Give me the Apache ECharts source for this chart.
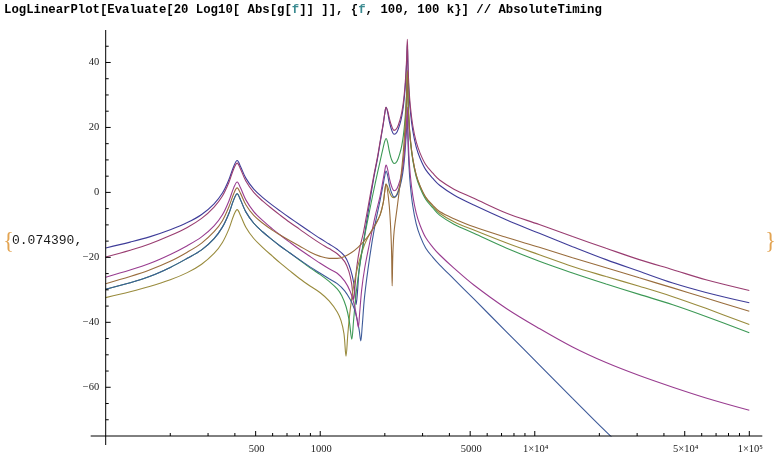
<!DOCTYPE html>
<html><head><meta charset="utf-8">
<script src="https://cdn.jsdelivr.net/npm/echarts@6/dist/echarts.min.js"></script>
<style>html,body{margin:0;padding:0;background:#fff}#c{width:784px;height:463px}</style>
</head><body><div id="c"></div>
<script>
// ---- tick values / labels ----
const xMajorTicks = [500, 1000, 5000, 10000, 50000, 100000];
const xTickLabels = ['500', '1000', '5000', '1×10⁴', '5×10⁴', '1×10⁵'];
const xMinorTicks = [200, 300, 400, 600, 700, 800, 900, 2000, 3000, 4000, 6000, 7000, 8000, 9000,
  20000, 30000, 40000, 60000, 70000, 80000, 90000];
const yMajorTicks = [-60, -40, -20, 0, 20, 40];
const yTickLabels = ['−60', '−40', '−20', '0', '20', '40'];
const yMinorTicks = [-70, -65, -55, -50, -45, -35, -30, -25, -15, -10, -5, 5, 10, 15, 25, 30, 35, 45];

// ---- series values [frequency Hz, dB] ----
const curveBlueViolet = [[100,-17.1],[130,-15.3],[160,-13.7],[200,-11.5],[240,-9.3],[280,-6.8],[320,-3.5],[350,-0.2],[375,3.9],[395,8.0],[410,9.8],[425,8.0],[450,4.4],[490,1.0],[540,-1.6],[600,-4.0],[650,-5.7],[720,-7.8],[800,-9.9],[900,-12.2],[1000,-14.2],[1100,-15.9],[1200,-17.5],[1300,-19.6],[1360,-22.2],[1410,-25.6],[1445,-29.5],[1470,-34.5],[1490,-31],[1520,-23.5],[1588,-15.7],[1650,-8.5],[1769,3.8],[1850,10.5],[1900,15.1],[1969,21.2],[2000,24.3],[2027,26.2],[2060,24.8],[2100,21.8],[2150,19.3],[2210,17.9],[2280,18.6],[2355,21.2],[2400,23.5],[2440,26.5],[2480,31],[2510,36],[2530,40.5],[2547,45.7],[2565,38],[2590,31],[2630,25],[2700,19],[2800,14],[2920,10.5],[3100,7.0],[3350,4.3],[3600,2.2],[4200,-0.8],[5200,-3.9],[7400,-8.5],[10500,-12.6],[15000,-16.7],[21500,-20.7],[30700,-24.3],[44000,-27.9],[62800,-30.8],[100000,-34.0]];
const curveMaroon = [[100,-19.9],[130,-17.8],[160,-15.9],[200,-13.3],[240,-10.8],[280,-8.0],[320,-4.5],[350,-1.1],[375,3.05],[395,7.2],[410,9.0],[425,7.2],[450,3.5],[490,0.0],[540,-2.7],[600,-5.2],[650,-7.0],[720,-9.2],[800,-11.3],[900,-13.7],[1000,-15.7],[1100,-17.3],[1200,-18.9],[1300,-21.3],[1360,-24.3],[1400,-28],[1430,-33],[1450,-29.5],[1480,-23],[1530,-17],[1588,-12.5],[1650,-6.5],[1769,4.5],[1850,11],[1900,15.5],[1969,21.5],[2000,24.5],[2027,26.2],[2060,25.2],[2100,22.8],[2150,20.5],[2210,19.1],[2280,19.8],[2355,22.4],[2400,24.7],[2440,27.7],[2480,32.2],[2510,37.2],[2530,41.8],[2547,47.1],[2565,39.6],[2590,32.6],[2630,26.6],[2700,20.6],[2800,15.6],[2920,12.1],[3100,8.6],[3350,5.9],[3600,3.8],[4200,1.0],[5200,-1.8],[7400,-6.4],[10500,-9.9],[15000,-13.6],[21500,-17.2],[30700,-20.7],[44000,-23.8],[62800,-26.9],[100000,-30.2]];
const curveOlive = [[100,-32.4],[130,-30.6],[160,-29.0],[200,-26.9],[240,-24.7],[280,-22.1],[320,-18.8],[350,-15.4],[375,-11.3],[395,-7.1],[410,-5.3],[425,-7.1],[450,-10.7],[490,-14.2],[540,-17.0],[600,-19.7],[650,-21.7],[720,-24.1],[800,-26.5],[900,-28.9],[1000,-30.9],[1100,-33.4],[1200,-36.8],[1250,-39.5],[1290,-43.5],[1319,-50.4],[1345,-43.5],[1380,-36],[1430,-29],[1500,-22.5],[1600,-16.5],[1700,-12.8],[1800,-10.0],[1900,-7.0],[1969,-3.0],[2000,0.5],[2027,2.6],[2060,1.8],[2100,0.2],[2150,-1.2],[2210,-1.6],[2280,-0.5],[2355,2.5],[2400,5.5],[2440,9.5],[2480,15.5],[2510,22.5],[2530,29],[2547,37.1],[2565,29.4],[2590,22.4],[2630,16.4],[2700,10.4],[2800,5.4],[2920,1.9],[3100,-1.6],[3350,-4.3],[3600,-6.4],[4200,-9.0],[5200,-11.6],[7400,-15.6],[10500,-19.2],[15000,-22.8],[21500,-25.9],[30700,-28.9],[44000,-32.1],[62800,-35.7],[100000,-40.7]];
const curveGreen = [[100,-29.8],[130,-27.8],[160,-25.9],[200,-23.1],[240,-20.3],[280,-17.7],[320,-14.2],[350,-10.7],[375,-6.5],[395,-2.3],[410,-0.4],[425,-2.3],[450,-6.0],[490,-9.5],[540,-12.2],[600,-14.7],[650,-16.5],[720,-18.6],[800,-20.8],[900,-23.3],[1000,-25.3],[1100,-27.4],[1200,-29.7],[1260,-31.8],[1320,-35.2],[1365,-39.5],[1403,-45.2],[1430,-39.5],[1470,-31],[1530,-22.5],[1600,-14.5],[1700,-5.5],[1800,2.5],[1900,9.5],[1969,14],[2000,15.8],[2027,16.6],[2060,15.5],[2100,12.6],[2150,10.1],[2210,8.9],[2280,9.6],[2355,12.2],[2400,14.5],[2440,17.5],[2480,22],[2510,27],[2530,31.5],[2547,36.6],[2565,28.9],[2590,21.9],[2630,15.9],[2700,9.9],[2800,4.9],[2920,1.4],[3100,-2.1],[3350,-4.8],[3600,-7.0],[4200,-9.8],[5200,-12.6],[7400,-17.2],[10500,-21.2],[15000,-24.8],[21500,-28.2],[30700,-31.4],[44000,-34.6],[62800,-38.2],[100000,-43.2]];
const curveSteelBlue = [[100,-29.8],[130,-27.8],[160,-25.9],[200,-23.1],[240,-20.3],[280,-17.7],[320,-14.2],[350,-10.7],[375,-6.5],[395,-2.3],[410,-0.4],[425,-2.3],[450,-6.0],[490,-9.5],[540,-12.2],[600,-14.7],[650,-16.5],[720,-18.6],[800,-20.7],[900,-23.0],[1000,-24.9],[1100,-26.6],[1200,-28.1],[1300,-30.3],[1380,-33.0],[1440,-35.8],[1490,-39.5],[1520,-42.5],[1545,-45.7],[1570,-41],[1610,-32],[1700,-20],[1800,-10],[1900,-2.5],[1969,2.8],[2000,5.2],[2027,6.6],[2060,5.3],[2100,2.3],[2150,-0.1],[2210,-1.4],[2280,-0.7],[2355,1.9],[2400,4.2],[2440,7.2],[2480,11.7],[2510,16.7],[2530,20],[2547,23.7],[2565,15.8],[2590,8.5],[2630,2.2],[2700,-4.2],[2800,-9.6],[2920,-13.4],[3100,-17.1],[3350,-20.0],[3600,-22.3],[4200,-26.7],[5200,-32.8],[7400,-43.0],[10500,-53.1],[15000,-63.4],[22900,-75.4],[35000,-86]];
const curveMagenta = [[100,-26.1],[130,-23.9],[160,-21.9],[200,-19.1],[240,-16.4],[280,-13.7],[320,-10.3],[350,-6.9],[375,-2.7],[395,1.4],[410,3.2],[425,1.4],[450,-2.3],[490,-5.9],[540,-8.7],[600,-11.3],[650,-13.1],[720,-15.3],[800,-17.5],[900,-19.8],[1000,-21.8],[1100,-23.5],[1200,-24.9],[1300,-27.3],[1380,-30.5],[1440,-34.5],[1480,-38.5],[1505,-41.5],[1525,-37.5],[1560,-30],[1610,-23.5],[1700,-15.5],[1800,-7.5],[1900,-1.2],[1969,4.3],[2000,6.8],[2027,8.4],[2060,7.2],[2100,4.4],[2150,1.9],[2210,0.5],[2280,1.2],[2355,3.8],[2400,6.1],[2440,9.1],[2480,13.6],[2510,18.6],[2530,22.5],[2547,26.3],[2565,18.5],[2590,11.4],[2630,5.2],[2700,-1],[2800,-6.3],[2920,-10.1],[3100,-13.9],[3350,-16.9],[3600,-19.2],[4200,-23.3],[5200,-28.5],[7400,-35.8],[10500,-41.9],[15000,-47.6],[21500,-52.4],[30700,-56.4],[44000,-60.0],[62800,-63.3],[100000,-67.1]];
const curveBrown = [[100,-28.1],[130,-25.9],[160,-23.9],[200,-21.2],[240,-18.4],[280,-15.6],[320,-12.1],[350,-8.7],[375,-4.5],[395,-0.4],[410,1.4],[425,-0.3],[450,-3.8],[490,-7.1],[540,-9.5],[600,-11.7],[650,-13.1],[720,-14.8],[800,-16.5],[900,-18.4],[1000,-19.7],[1100,-20.3],[1200,-20.3],[1300,-19.7],[1400,-18.5],[1500,-16.9],[1600,-15.0],[1700,-12.8],[1800,-10.2],[1900,-7.0],[1969,-3.0],[2000,0.5],[2027,2.6],[2060,0.5],[2100,-4.5],[2130,-11],[2150,-18],[2164,-28.8],[2180,-19],[2210,-12],[2280,-5],[2355,2.5],[2400,7.5],[2440,12.5],[2480,19.5],[2510,25.5],[2530,31],[2547,37.6],[2565,29.7],[2590,22.6],[2630,16.5],[2700,10.4],[2800,5.4],[2920,2.0],[3100,-1.4],[3350,-4.0],[3600,-5.9],[4200,-8.1],[5200,-10.6],[7400,-13.9],[10500,-16.9],[15000,-20.1],[21500,-23.2],[30700,-26.3],[44000,-29.4],[62800,-32.5],[100000,-36.6]];

const curves = [
  {name: 'c1', data: curveBlueViolet, color: '#3f3d99'},
  {name: 'c2', data: curveMaroon, color: '#993d71'},
  {name: 'c3', data: curveOlive, color: '#998b3d'},
  {name: 'c4', data: curveGreen, color: '#3d9956'},
  {name: 'c5', data: curveSteelBlue, color: '#3d5a99'},
  {name: 'c6', data: curveMagenta, color: '#993d90'},
  {name: 'c7', data: curveBrown, color: '#996d3d'}
];

const chart = echarts.init(document.getElementById('c'), null, {renderer: 'canvas'});
const Y_MIN = -75, Y_MAX = 50, X_MIN = 100, X_MAX = 100000;

const lineSeries = curves.map(c => ({
  type: 'line', name: c.name, data: c.data, showSymbol: false, symbol: 'none',
  smooth: 0.35, clip: true, silent: true,
  lineStyle: {color: c.color, width: 1.1}
}));

const tickData = []
  .concat(xMajorTicks.map(v => [v, Y_MIN, 0, 1]))
  .concat(xMinorTicks.map(v => [v, Y_MIN, 0, 0]))
  .concat(yMajorTicks.map(v => [X_MIN, v, 1, 1]))
  .concat(yMinorTicks.map(v => [X_MIN, v, 1, 0]));

const tickSeries = {
  type: 'custom', coordinateSystem: 'cartesian2d', silent: true, clip: false, z: 5,
  data: tickData,
  renderItem: function (params, api) {
    const p = api.coord([api.value(0), api.value(1)]);
    const isY = api.value(2) === 1;
    const len = api.value(3) === 1 ? 5 : 3;
    const shape = isY ? {x1: p[0], y1: p[1], x2: p[0] + len, y2: p[1]}
                      : {x1: p[0], y1: p[1], x2: p[0], y2: p[1] - len};
    return {type: 'line', shape: shape, style: {stroke: '#000', lineWidth: 1}};
  }
};

const labelData = []
  .concat(xMajorTicks.map((v, i) => [v, Y_MIN, 0, i]))
  .concat(yMajorTicks.map((v, i) => [X_MIN, v, 1, i]));

const labelSeries = {
  type: 'custom', coordinateSystem: 'cartesian2d', silent: true, clip: false, z: 5,
  data: labelData,
  renderItem: function (params, api) {
    const p = api.coord([api.value(0), api.value(1)]);
    const isY = api.value(2) === 1;
    const idx = api.value(3);
    const txt = isY ? yTickLabels[idx] : xTickLabels[idx];
    return {
      type: 'text',
      x: isY ? p[0] - 6.5 : p[0] + 1,
      y: isY ? p[1] : p[1] + 13,
      style: {
        text: txt, fill: '#222',
        font: '10.5px "Liberation Serif", "DejaVu Serif", serif',
        align: isY ? 'right' : 'center', verticalAlign: 'middle',
        textAlign: isY ? 'right' : 'center', textVerticalAlign: 'middle'
      }
    };
  }
};

chart.setOption({
  animation: false,
  backgroundColor: '#fff',
  grid: {left: 105.7, top: 30, width: 643.6, height: 406, containLabel: false},
  xAxis: {type: 'log', logBase: 10, min: X_MIN, max: X_MAX,
    axisLine: {show: false}, axisTick: {show: false}, axisLabel: {show: false}, splitLine: {show: false}},
  yAxis: {type: 'value', min: Y_MIN, max: Y_MAX,
    axisLine: {show: false}, axisTick: {show: false}, axisLabel: {show: false}, splitLine: {show: false}},
  series: lineSeries.concat([tickSeries, labelSeries])
});

// axes lines (with Mathematica-style overhang) and the notebook text
const o = chart.convertToPixel({gridIndex: 0}, [X_MIN, Y_MIN]);
const t = chart.convertToPixel({gridIndex: 0}, [X_MAX, Y_MAX]);
const monoB = 'bold 12.3px "Liberation Mono", "DejaVu Sans Mono", monospace';
const cw = 12.3 * 0.6;
const titleSegs = [
  ['LogLinearPlot[Evaluate[20 Log10[ Abs[g[', 0, '#000'],
  ['f', 39, '#3a8a90'],
  [']] ]], {', 40, '#000'],
  ['f', 48, '#3a8a90'],
  [', 100, 100 k}] // AbsoluteTiming', 49, '#000']
];
const graphics = [
  {type: 'line', shape: {x1: o[0] - 15, y1: o[1], x2: t[0] + 13, y2: o[1]}, style: {stroke: '#000', lineWidth: 1}, z: 10},
  {type: 'line', shape: {x1: o[0], y1: t[1], x2: o[0], y2: o[1] + 9}, style: {stroke: '#000', lineWidth: 1}, z: 10}
];
titleSegs.forEach(s => graphics.push({
  type: 'text', x: 4 + s[1] * cw, y: 10,
  style: {text: s[0], font: monoB, fill: s[2], textVerticalAlign: 'middle', verticalAlign: 'middle'}
}));
graphics.push({type: 'text', x: 3, y: 242,
  style: {text: '{', font: '23px "Liberation Serif", serif', fill: '#e3a452', textVerticalAlign: 'middle', verticalAlign: 'middle'}});
graphics.push({type: 'text', x: 12, y: 241,
  style: {text: '0.074390,', font: '13px "Liberation Mono", monospace', fill: '#1a1a1a', textVerticalAlign: 'middle', verticalAlign: 'middle'}});
graphics.push({type: 'text', x: 765, y: 242,
  style: {text: '}', font: '23px "Liberation Serif", serif', fill: '#e3a452', textVerticalAlign: 'middle', verticalAlign: 'middle'}});
chart.setOption({graphic: graphics});
</script>
</body></html>
